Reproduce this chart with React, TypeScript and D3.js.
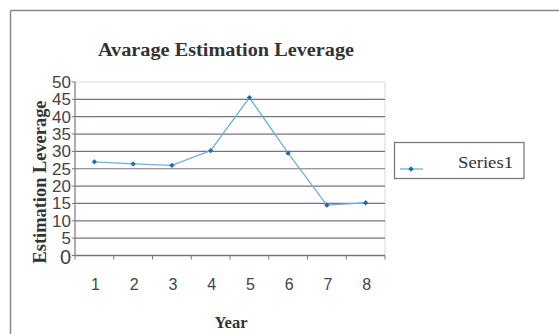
import React from "react";
import * as d3 from "d3";

const categories = ["1", "2", "3", "4", "5", "6", "7", "8"];
const seriesValues = [27, 26.4, 26, 30.2, 45.5, 29.5, 14.5, 15.2];
const yTicks = [0, 5, 10, 15, 20, 25, 30, 35, 40, 45, 50];
const title = "Avarage Estimation Leverage";
const xTitle = "Year";
const yTitle = "Estimation Leverage";
const seriesName = "Series1";

const W = 559;
const H = 334;
const plot = { left: 75, right: 385, top: 82, bottom: 255.5 };

export default function App() {
  const x = d3.scaleBand<string>().domain(categories).range([plot.left, plot.right]).padding(0);
  const y = d3.scaleLinear().domain([0, 50]).range([plot.bottom, plot.top]);
  const cx = (c: string) => (x(c) as number) + x.bandwidth() / 2;
  const line = d3
    .line<number>()
    .x((_, i) => cx(categories[i]))
    .y((d) => y(d));
  const diamond = d3.symbol().type(d3.symbolSquare).size(14)() as string;
  const boundaries = d3.range(categories.length + 1).map((i) => plot.left + i * x.bandwidth());
  const gridColor = "#7e6f86";
  const serif = "'Liberation Serif', 'Times New Roman', serif";
  const sans = "'Liberation Sans', Arial, sans-serif";

  return (
    <svg width={W} height={H} style={{ position: "absolute", left: 0, top: 0, background: "#fff" }}>
      <rect x={0} y={0} width={W} height={H} fill="#fff" />
      {/* outer chart border */}
      <line x1={10.5} y1={10.5} x2={W} y2={10.5} stroke="#8a8a8a" strokeWidth={1.5} />
      <line x1={10.5} y1={10.5} x2={10.5} y2={H} stroke="#8a8a8a" strokeWidth={1.5} />

      {/* title */}
      <text x={226} y={56} textAnchor="middle" fontFamily={serif} fontWeight="bold" fontSize={18.5}
        textLength={256} lengthAdjust="spacingAndGlyphs" fill="#333">
        {title}
      </text>

      {/* plot border top/right */}
      <line x1={plot.left} y1={plot.top} x2={plot.right} y2={plot.top} stroke="#d8d8d8" strokeWidth={1} />
      <line x1={plot.right} y1={plot.top} x2={plot.right} y2={plot.bottom} stroke="#d8d8d8" strokeWidth={1} />

      {/* gridlines */}
      {yTicks
        .filter((t) => t > 0 && t < 50)
        .map((t) => (
          <line key={t} x1={plot.left} x2={plot.right} y1={y(t)} y2={y(t)} stroke={gridColor} strokeWidth={1.2} />
        ))}

      {/* axes */}
      <line x1={plot.left} x2={plot.left} y1={plot.top} y2={plot.bottom + 0.5} stroke="#777" strokeWidth={1.2} />
      <line x1={plot.left} x2={plot.right} y1={plot.bottom} y2={plot.bottom} stroke="#777" strokeWidth={1.3} />
      {yTicks.map((t) => (
        <line key={t} x1={plot.left - 3} x2={plot.left} y1={y(t)} y2={y(t)} stroke="#777" strokeWidth={1} />
      ))}
      {boundaries.map((bx, i) => (
        <line key={i} x1={bx} x2={bx} y1={plot.bottom} y2={plot.bottom + 4} stroke="#777" strokeWidth={1} />
      ))}

      {/* y tick labels */}
      {yTicks.map((t) => (
        <text key={t} x={71} y={y(t) + (t === 0 ? 8 : 6)} textAnchor="end" fontFamily={sans} fontSize={t === 0 ? 20 : 17} fill="#444">
          {t}
        </text>
      ))}

      {/* x tick labels */}
      {categories.map((c) => (
        <text key={c} x={cx(c) + 1} y={290} textAnchor="middle" fontFamily={sans} fontSize={16} fill="#444">
          {c}
        </text>
      ))}

      {/* axis titles */}
      <text x={231} y={328} textAnchor="middle" fontFamily={serif} fontWeight="bold" fontSize={16.5} fill="#333">
        {xTitle}
      </text>
      <text transform={`translate(46,182) rotate(-90)`} textAnchor="middle" fontFamily={serif} fontWeight="bold"
        fontSize={18} fill="#333" textLength={163} lengthAdjust="spacingAndGlyphs">
        {yTitle}
      </text>

      {/* series */}
      <path d={line(seriesValues) as string} fill="none" stroke="#6cb2de" strokeWidth={1.3} />
      {seriesValues.map((v, i) => (
        <path key={i} d={diamond} transform={`translate(${cx(categories[i])},${y(v)}) rotate(45)`} fill="#1f6ea6" />
      ))}

      {/* legend */}
      <rect x={394.5} y={142.5} width={129.5} height={36} fill="#fff" stroke="#7a7a7a" strokeWidth={1.3} />
      <line x1={400} x2={423} y1={169} y2={169} stroke="#6cb2de" strokeWidth={1.3} />
      <path d={diamond} transform="translate(411,169) rotate(45)" fill="#1f6ea6" />
      <text x={458} y={168} fontFamily={serif} fontSize={16} fill="#333" textLength={55} lengthAdjust="spacingAndGlyphs">
        {seriesName}
      </text>
    </svg>
  );
}
